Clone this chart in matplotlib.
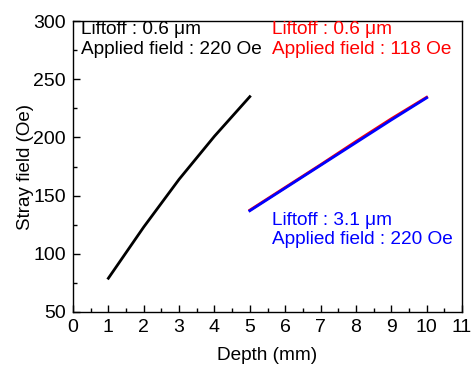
import matplotlib.pyplot as plt

# data
depth_a = [1, 2, 3, 4, 5]
field_a = [79, 123, 164, 201, 235]

depth_b = [5, 6, 7, 8, 9, 10]
field_red = [137.5, 157, 176.5, 196.5, 216, 234.5]
field_blue = [137, 156.5, 176, 195.5, 215, 234]

plt.rcParams['font.family'] = ['Liberation Sans', 'DejaVu Sans']
plt.rcParams['font.size'] = 13.7

fig = plt.figure(figsize=(4.71, 3.67), dpi=100)
ax = fig.add_axes([73 / 471, 1 - 312 / 367, 389 / 471, 291 / 367])

ax.plot(depth_a, field_a, color='black', lw=2)
ax.plot(depth_b, field_red, color='red', lw=2)
ax.plot(depth_b, field_blue, color='blue', lw=2)

ax.set_xlim(0, 11)
ax.set_ylim(50, 300)
ax.set_xticks(range(0, 12))
ax.set_xticks([x + 0.5 for x in range(0, 11)], minor=True)
ax.set_yticks(range(50, 301, 50))
ax.set_yticks(range(75, 300, 50), minor=True)
ax.tick_params(which='both', direction='in', top=False, right=False,
               labelsize=14, pad=5)
ax.tick_params(which='major', length=5, width=1)
ax.tick_params(which='minor', length=3, width=1)
for s in ax.spines.values():
    s.set_linewidth(1)

ax.set_xlabel('Depth (mm)', labelpad=8)
ax.set_ylabel('Stray field (Oe)', fontsize=13.5)
ax.yaxis.set_label_coords(-0.1, 0.5)

ax.text(0.22, 284, 'Liftoff : 0.6 μm\nApplied field : 220 Oe', color='black',
        va='center', ha='left', linespacing=1.2)
ax.text(5.64, 284, 'Liftoff : 0.6 μm\nApplied field : 118 Oe', color='red',
        va='center', ha='left', linespacing=1.2)
ax.text(5.64, 120.5, 'Liftoff : 3.1 μm\nApplied field : 220 Oe', color='blue',
        va='center', ha='left', linespacing=1.2)

fig.savefig('out.png', dpi=100)
